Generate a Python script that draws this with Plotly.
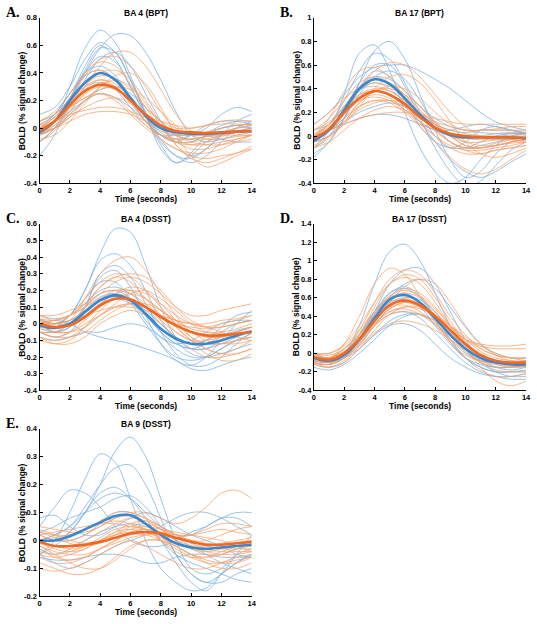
import plotly.graph_objects as go

TIME = [0, 1, 2, 3, 4, 5, 6, 7, 8, 9, 10, 11, 12, 13, 14]
X_TICKS = [0, 2, 4, 6, 8, 10, 12, 14]

# ---------------- Panel A: BA 4 (BPT) ----------------
A_BLUE = [
    [-0.05, 0.05, 0.3, 0.58, 0.71, 0.62, 0.38, 0.1, -0.1, -0.2, -0.22, -0.15, -0.05, 0.0, 0.0],
    [0.0, 0.05, 0.2, 0.4, 0.58, 0.68, 0.67, 0.55, 0.35, 0.12, -0.05, -0.1, -0.08, -0.05, -0.03],
    [0.1, 0.15, 0.3, 0.5, 0.62, 0.55, 0.35, 0.12, -0.05, -0.1, -0.05, 0.02, 0.05, 0.05, 0.03],
    [-0.2, -0.05, 0.2, 0.45, 0.6, 0.5, 0.3, 0.1, -0.08, -0.2, -0.25, -0.2, -0.1, 0.0, 0.05],
    [-0.1, 0.0, 0.15, 0.35, 0.5, 0.55, 0.45, 0.25, 0.05, -0.12, -0.2, -0.15, -0.05, 0.05, 0.1],
    [0.0, 0.1, 0.25, 0.4, 0.45, 0.38, 0.22, 0.05, -0.05, -0.08, -0.05, 0.0, 0.1, 0.15, 0.12],
    [-0.05, 0.0, 0.1, 0.2, 0.28, 0.3, 0.25, 0.15, 0.05, -0.05, -0.08, -0.06, -0.04, -0.03, -0.02],
    [0.02, 0.1, 0.25, 0.38, 0.42, 0.35, 0.2, 0.05, -0.05, -0.1, -0.1, -0.05, 0.0, 0.02, 0.03],
    [-0.1, 0.0, 0.2, 0.42, 0.58, 0.55, 0.35, 0.1, -0.15, -0.25, -0.2, -0.1, -0.05, -0.02, 0.0],
    [0.0, 0.05, 0.12, 0.2, 0.25, 0.22, 0.15, 0.05, -0.02, -0.05, -0.05, -0.03, 0.0, 0.02, 0.0],
    [-0.05, 0.05, 0.2, 0.3, 0.33, 0.28, 0.15, 0.02, -0.05, -0.05, -0.03, -0.05, -0.08, -0.1, -0.1],
    [0.05, 0.1, 0.22, 0.4, 0.52, 0.48, 0.3, 0.08, -0.12, -0.25, -0.18, -0.05, 0.02, 0.05, 0.05],
]
A_ORANGE = [
    [0.0, 0.08, 0.2, 0.38, 0.5, 0.52, 0.45, 0.3, 0.12, 0.0, -0.05, -0.05, -0.03, -0.02, 0.0],
    [-0.05, 0.0, 0.12, 0.3, 0.45, 0.55, 0.55, 0.45, 0.28, 0.1, -0.02, -0.05, -0.03, 0.0, 0.02],
    [0.0, 0.05, 0.15, 0.25, 0.3, 0.28, 0.2, 0.1, 0.0, -0.08, -0.12, -0.12, -0.1, -0.08, -0.05],
    [-0.05, 0.0, 0.08, 0.15, 0.2, 0.22, 0.18, 0.1, 0.02, -0.05, -0.1, -0.12, -0.12, -0.1, -0.08],
    [0.05, 0.12, 0.25, 0.38, 0.42, 0.35, 0.2, 0.05, -0.08, -0.15, -0.18, -0.18, -0.15, -0.1, -0.05],
    [-0.1, -0.02, 0.1, 0.2, 0.25, 0.22, 0.12, 0.02, -0.05, -0.08, -0.08, -0.06, -0.05, -0.05, -0.05],
    [0.0, 0.05, 0.15, 0.3, 0.4, 0.42, 0.35, 0.2, 0.05, -0.05, -0.08, -0.06, -0.03, 0.0, 0.02],
    [-0.02, 0.05, 0.15, 0.22, 0.25, 0.2, 0.1, 0.0, -0.08, -0.15, -0.2, -0.22, -0.2, -0.18, -0.13],
    [0.02, 0.05, 0.1, 0.13, 0.15, 0.15, 0.12, 0.08, 0.05, 0.02, 0.0, 0.02, 0.05, 0.06, 0.05],
    [-0.08, -0.05, 0.05, 0.18, 0.3, 0.35, 0.3, 0.18, 0.02, -0.12, -0.22, -0.25, -0.22, -0.18, -0.15],
    [0.05, 0.1, 0.2, 0.32, 0.38, 0.36, 0.28, 0.15, 0.05, 0.0, 0.0, 0.02, 0.03, 0.03, 0.02],
    [-0.05, 0.02, 0.15, 0.28, 0.35, 0.32, 0.22, 0.1, 0.0, -0.05, -0.05, -0.03, 0.0, 0.02, 0.03],
    [0.0, 0.05, 0.15, 0.22, 0.28, 0.3, 0.28, 0.22, 0.12, 0.02, -0.05, -0.08, -0.08, -0.06, -0.05],
    [-0.03, 0.02, 0.12, 0.25, 0.33, 0.3, 0.2, 0.08, -0.03, -0.1, -0.15, -0.15, -0.12, -0.08, -0.05],
    [0.03, 0.08, 0.18, 0.3, 0.35, 0.3, 0.18, 0.05, -0.05, -0.1, -0.1, -0.08, -0.05, -0.03, -0.02],
    [-0.02, 0.0, 0.05, 0.1, 0.12, 0.12, 0.1, 0.05, 0.0, -0.03, -0.05, -0.05, -0.04, -0.03, -0.02],
    [0.0, 0.08, 0.22, 0.4, 0.48, 0.45, 0.32, 0.15, 0.0, -0.1, -0.12, -0.1, -0.06, -0.03, 0.0],
    [-0.04, 0.0, 0.08, 0.2, 0.3, 0.38, 0.4, 0.32, 0.15, -0.05, -0.2, -0.28, -0.25, -0.2, -0.15],
]
A_BLUE_MEAN = [-0.03, 0.05, 0.2, 0.33, 0.4, 0.35, 0.22, 0.09, 0.0, -0.03, -0.04, -0.04, -0.035, -0.025, -0.02]
A_ORANGE_MEAN = [-0.02, 0.05, 0.17, 0.27, 0.315, 0.29, 0.2, 0.1, 0.02, -0.02, -0.03, -0.035, -0.03, -0.025, -0.02]

# ---------------- Panel B: BA 17 (BPT) ----------------
B_BLUE = [
    [-0.1, 0.05, 0.35, 0.7, 0.77, 0.55, 0.2, -0.1, -0.3, -0.4, -0.35, -0.2, -0.08, 0.0, 0.02],
    [-0.05, 0.0, 0.15, 0.45, 0.72, 0.8, 0.65, 0.35, 0.05, -0.2, -0.35, -0.3, -0.15, -0.05, 0.0],
    [0.0, 0.1, 0.3, 0.55, 0.7, 0.65, 0.45, 0.2, 0.0, -0.1, -0.05, 0.05, 0.08, 0.05, 0.02],
    [0.1, 0.2, 0.35, 0.5, 0.58, 0.6, 0.6, 0.55, 0.48, 0.4, 0.3, 0.2, 0.12, 0.08, 0.05],
    [-0.18, -0.05, 0.15, 0.35, 0.5, 0.55, 0.48, 0.3, 0.1, -0.05, -0.1, -0.08, -0.05, -0.02, 0.0],
    [-0.05, 0.05, 0.2, 0.38, 0.45, 0.4, 0.28, 0.12, -0.05, -0.2, -0.3, -0.35, -0.3, -0.22, -0.15],
    [0.0, 0.05, 0.12, 0.2, 0.25, 0.28, 0.25, 0.18, 0.1, 0.05, 0.03, 0.05, 0.05, 0.05, 0.03],
    [-0.1, 0.0, 0.2, 0.45, 0.6, 0.6, 0.42, 0.15, -0.1, -0.3, -0.42, -0.38, -0.25, -0.12, -0.05],
    [0.0, 0.05, 0.1, 0.15, 0.18, 0.18, 0.15, 0.1, 0.05, 0.02, 0.0, 0.0, 0.0, 0.0, 0.0],
    [-0.05, 0.05, 0.2, 0.33, 0.38, 0.35, 0.25, 0.12, 0.05, 0.05, 0.08, 0.1, 0.08, 0.05, 0.02],
    [0.05, 0.1, 0.25, 0.42, 0.5, 0.48, 0.38, 0.25, 0.15, 0.08, 0.05, 0.03, 0.02, 0.02, 0.02],
    [-0.15, -0.05, 0.15, 0.4, 0.55, 0.5, 0.3, 0.08, -0.05, -0.1, -0.1, -0.05, 0.0, 0.02, 0.02],
]
B_ORANGE = [
    [0.0, 0.15, 0.38, 0.55, 0.58, 0.5, 0.38, 0.25, 0.12, 0.02, -0.05, -0.08, -0.08, -0.06, -0.05],
    [-0.05, 0.05, 0.2, 0.4, 0.55, 0.62, 0.6, 0.5, 0.35, 0.2, 0.08, 0.0, -0.03, -0.03, -0.02],
    [0.05, 0.12, 0.25, 0.35, 0.38, 0.35, 0.25, 0.12, 0.0, -0.1, -0.15, -0.15, -0.12, -0.1, -0.08],
    [-0.1, -0.05, 0.05, 0.15, 0.22, 0.25, 0.22, 0.15, 0.05, -0.05, -0.12, -0.15, -0.12, -0.1, -0.08],
    [0.0, 0.1, 0.25, 0.4, 0.45, 0.42, 0.35, 0.22, 0.1, 0.0, -0.05, -0.05, -0.03, 0.0, 0.02],
    [-0.05, 0.0, 0.12, 0.25, 0.3, 0.28, 0.2, 0.08, -0.05, -0.18, -0.28, -0.32, -0.28, -0.2, -0.12],
    [0.0, 0.05, 0.15, 0.28, 0.38, 0.42, 0.4, 0.32, 0.2, 0.1, 0.05, 0.05, 0.06, 0.08, 0.08],
    [-0.08, 0.0, 0.12, 0.22, 0.28, 0.3, 0.28, 0.2, 0.1, 0.0, -0.08, -0.1, -0.08, -0.05, -0.03],
    [0.02, 0.1, 0.25, 0.4, 0.48, 0.45, 0.35, 0.2, 0.08, 0.0, -0.02, 0.0, 0.02, 0.03, 0.03],
    [-0.03, 0.05, 0.18, 0.3, 0.35, 0.32, 0.22, 0.1, 0.0, -0.08, -0.12, -0.12, -0.1, -0.08, -0.05],
    [0.0, 0.05, 0.1, 0.15, 0.18, 0.2, 0.2, 0.18, 0.15, 0.12, 0.1, 0.1, 0.1, 0.1, 0.1],
    [0.05, 0.15, 0.3, 0.45, 0.5, 0.45, 0.32, 0.18, 0.05, -0.05, -0.1, -0.1, -0.08, -0.05, -0.03],
    [-0.05, 0.0, 0.1, 0.25, 0.4, 0.5, 0.52, 0.45, 0.3, 0.12, -0.05, -0.15, -0.18, -0.15, -0.1],
    [0.0, 0.08, 0.2, 0.3, 0.33, 0.3, 0.22, 0.12, 0.05, 0.0, -0.02, -0.03, -0.03, -0.02, -0.02],
    [-0.02, 0.05, 0.15, 0.25, 0.3, 0.3, 0.25, 0.18, 0.1, 0.05, 0.02, 0.0, -0.02, -0.03, -0.05],
    [0.1, 0.2, 0.32, 0.4, 0.42, 0.38, 0.3, 0.2, 0.12, 0.08, 0.05, 0.05, 0.05, 0.05, 0.05],
    [-0.1, -0.02, 0.12, 0.28, 0.38, 0.4, 0.35, 0.25, 0.12, 0.0, -0.08, -0.1, -0.08, -0.05, -0.03],
    [0.0, 0.1, 0.22, 0.35, 0.4, 0.38, 0.3, 0.18, 0.05, -0.05, -0.1, -0.1, -0.06, -0.03, 0.0],
]
B_BLUE_MEAN = [-0.04, 0.05, 0.22, 0.4, 0.48, 0.44, 0.32, 0.18, 0.07, 0.01, -0.01, -0.01, -0.01, -0.01, -0.02]
B_ORANGE_MEAN = [-0.02, 0.06, 0.2, 0.32, 0.38, 0.35, 0.27, 0.16, 0.07, 0.02, 0.0, -0.01, -0.01, -0.01, -0.02]

# ---------------- Panel C: BA 4 (DSST) ----------------
C_BLUE = [
    [0.0, -0.02, 0.05, 0.2, 0.42, 0.57, 0.55, 0.35, 0.1, -0.08, -0.15, -0.15, -0.1, -0.05, -0.02],
    [0.02, 0.0, 0.05, 0.2, 0.38, 0.42, 0.35, 0.2, 0.02, -0.1, -0.18, -0.2, -0.18, -0.15, -0.12],
    [0.0, -0.05, -0.02, 0.1, 0.3, 0.35, 0.28, 0.12, -0.05, -0.18, -0.25, -0.25, -0.2, -0.12, -0.05],
    [-0.05, -0.08, -0.05, 0.1, 0.28, 0.32, 0.22, 0.05, -0.12, -0.22, -0.25, -0.2, -0.1, 0.0, 0.08],
    [0.0, 0.02, 0.0, -0.05, -0.08, -0.1, -0.12, -0.15, -0.18, -0.22, -0.27, -0.28, -0.25, -0.22, -0.2],
    [0.05, 0.03, 0.05, 0.12, 0.2, 0.22, 0.18, 0.1, 0.0, -0.08, -0.12, -0.1, -0.05, 0.0, 0.02],
    [-0.05, -0.05, 0.0, 0.1, 0.18, 0.2, 0.15, 0.05, -0.05, -0.12, -0.15, -0.15, -0.12, -0.08, -0.05],
    [0.0, 0.0, 0.02, 0.08, 0.15, 0.18, 0.15, 0.08, 0.0, -0.08, -0.12, -0.1, -0.02, 0.05, 0.07],
    [-0.08, -0.1, -0.08, -0.05, -0.05, -0.02, 0.0, -0.02, -0.08, -0.15, -0.2, -0.2, -0.15, -0.1, -0.08],
    [0.03, 0.0, 0.05, 0.15, 0.25, 0.25, 0.15, 0.02, -0.08, -0.12, -0.1, -0.05, 0.0, 0.02, 0.02],
    [0.0, -0.03, 0.0, 0.08, 0.16, 0.18, 0.12, 0.0, -0.12, -0.2, -0.22, -0.2, -0.15, -0.1, -0.06],
    [-0.03, -0.05, -0.02, 0.05, 0.12, 0.15, 0.12, 0.05, -0.05, -0.12, -0.15, -0.12, -0.08, -0.04, -0.02],
]
C_ORANGE = [
    [0.0, -0.02, 0.02, 0.15, 0.3, 0.38, 0.4, 0.32, 0.18, 0.05, -0.05, -0.08, -0.08, -0.05, -0.02],
    [0.05, 0.02, 0.05, 0.12, 0.22, 0.28, 0.3, 0.28, 0.2, 0.1, 0.02, -0.02, -0.02, 0.0, 0.02],
    [-0.05, -0.08, -0.05, 0.02, 0.1, 0.15, 0.15, 0.1, 0.02, -0.05, -0.1, -0.12, -0.12, -0.12, -0.1],
    [0.0, 0.02, 0.05, 0.1, 0.18, 0.25, 0.28, 0.25, 0.18, 0.1, 0.05, 0.05, 0.08, 0.1, 0.12],
    [-0.08, -0.1, -0.08, -0.02, 0.05, 0.1, 0.12, 0.1, 0.05, -0.02, -0.1, -0.15, -0.18, -0.18, -0.15],
    [0.02, 0.0, 0.02, 0.08, 0.15, 0.2, 0.2, 0.15, 0.08, 0.02, -0.03, -0.05, -0.05, -0.03, 0.0],
    [-0.1, -0.12, -0.1, -0.02, 0.08, 0.15, 0.18, 0.15, 0.08, 0.0, -0.08, -0.12, -0.12, -0.1, -0.08],
    [0.05, 0.05, 0.08, 0.12, 0.18, 0.2, 0.18, 0.12, 0.05, 0.0, -0.02, -0.03, -0.02, 0.0, 0.02],
    [0.0, -0.05, -0.05, 0.0, 0.05, 0.1, 0.12, 0.1, 0.05, -0.02, -0.1, -0.18, -0.22, -0.22, -0.18],
    [-0.05, -0.05, 0.0, 0.1, 0.22, 0.28, 0.25, 0.15, 0.05, -0.05, -0.1, -0.1, -0.08, -0.05, -0.02],
    [0.0, 0.0, 0.02, 0.05, 0.08, 0.1, 0.1, 0.08, 0.05, 0.02, 0.0, -0.02, -0.05, -0.08, -0.1],
    [-0.02, -0.05, -0.05, -0.02, 0.05, 0.12, 0.18, 0.2, 0.15, 0.08, 0.0, -0.05, -0.06, -0.05, -0.02],
    [0.03, 0.0, 0.0, 0.05, 0.12, 0.18, 0.2, 0.18, 0.12, 0.05, 0.0, -0.02, 0.0, 0.02, 0.05],
    [-0.08, -0.12, -0.12, -0.08, 0.0, 0.05, 0.08, 0.05, 0.0, -0.08, -0.15, -0.2, -0.2, -0.18, -0.15],
    [0.02, 0.0, 0.05, 0.15, 0.25, 0.3, 0.28, 0.2, 0.1, 0.0, -0.05, -0.08, -0.08, -0.06, -0.05],
    [-0.05, -0.08, -0.08, -0.05, 0.02, 0.08, 0.12, 0.12, 0.08, 0.02, -0.05, -0.1, -0.12, -0.1, -0.08],
    [0.0, -0.02, 0.0, 0.05, 0.12, 0.18, 0.22, 0.2, 0.12, 0.02, -0.08, -0.15, -0.18, -0.15, -0.1],
    [0.03, 0.02, 0.05, 0.1, 0.15, 0.16, 0.14, 0.1, 0.05, 0.02, 0.0, 0.0, 0.02, 0.03, 0.05],
]
C_BLUE_MEAN = [-0.01, -0.025, 0.0, 0.07, 0.14, 0.17, 0.14, 0.06, -0.03, -0.09, -0.12, -0.12, -0.1, -0.07, -0.045]
C_ORANGE_MEAN = [0.0, -0.02, -0.01, 0.04, 0.11, 0.15, 0.145, 0.1, 0.04, -0.01, -0.05, -0.07, -0.07, -0.06, -0.05]

# ---------------- Panel D: BA 17 (DSST) ----------------
D_BLUE = [
    [-0.05, -0.1, 0.0, 0.3, 0.75, 1.1, 1.18, 1.0, 0.65, 0.3, 0.05, -0.1, -0.15, -0.15, -0.12],
    [-0.1, -0.12, -0.05, 0.15, 0.45, 0.75, 0.9, 0.92, 0.75, 0.45, 0.15, -0.05, -0.15, -0.18, -0.15],
    [0.0, -0.05, 0.05, 0.2, 0.42, 0.6, 0.65, 0.55, 0.35, 0.12, -0.05, -0.15, -0.2, -0.2, -0.18],
    [-0.1, -0.15, -0.1, 0.05, 0.2, 0.3, 0.32, 0.25, 0.1, -0.05, -0.15, -0.22, -0.25, -0.25, -0.22],
    [-0.05, -0.08, 0.0, 0.2, 0.45, 0.65, 0.7, 0.6, 0.4, 0.2, 0.05, -0.05, -0.1, -0.1, -0.1],
    [-0.08, -0.1, -0.05, 0.1, 0.3, 0.5, 0.6, 0.58, 0.45, 0.25, 0.05, -0.1, -0.2, -0.25, -0.25],
    [-0.15, -0.18, -0.12, 0.0, 0.15, 0.3, 0.4, 0.42, 0.35, 0.2, 0.05, -0.05, -0.1, -0.12, -0.12],
    [-0.05, -0.05, 0.02, 0.2, 0.4, 0.55, 0.58, 0.5, 0.3, 0.1, -0.05, -0.12, -0.15, -0.15, -0.14],
    [0.0, -0.05, 0.0, 0.15, 0.38, 0.6, 0.75, 0.8, 0.7, 0.5, 0.28, 0.1, 0.0, -0.05, -0.05],
    [-0.05, -0.08, -0.02, 0.12, 0.3, 0.42, 0.45, 0.38, 0.22, 0.05, -0.1, -0.2, -0.25, -0.28, -0.28],
    [-0.1, -0.12, -0.05, 0.15, 0.42, 0.65, 0.72, 0.62, 0.4, 0.15, -0.05, -0.15, -0.2, -0.2, -0.2],
    [-0.05, -0.08, -0.05, 0.05, 0.2, 0.35, 0.42, 0.42, 0.32, 0.15, 0.0, -0.08, -0.1, -0.1, -0.08],
]
D_ORANGE = [
    [-0.05, -0.05, 0.1, 0.4, 0.75, 0.92, 0.85, 0.62, 0.35, 0.12, -0.02, -0.08, -0.1, -0.1, -0.08],
    [0.0, -0.02, 0.05, 0.25, 0.55, 0.8, 0.9, 0.85, 0.65, 0.4, 0.2, 0.05, -0.02, -0.05, -0.05],
    [-0.1, -0.12, -0.05, 0.1, 0.3, 0.48, 0.55, 0.5, 0.38, 0.22, 0.08, -0.02, -0.08, -0.1, -0.1],
    [-0.05, -0.05, 0.05, 0.2, 0.38, 0.5, 0.52, 0.45, 0.32, 0.18, 0.05, -0.05, -0.1, -0.12, -0.12],
    [-0.08, -0.1, -0.02, 0.15, 0.38, 0.58, 0.65, 0.6, 0.45, 0.25, 0.05, -0.15, -0.3, -0.35, -0.3],
    [0.0, 0.0, 0.08, 0.25, 0.45, 0.6, 0.62, 0.55, 0.42, 0.28, 0.15, 0.08, 0.05, 0.05, 0.05],
    [-0.12, -0.15, -0.1, 0.05, 0.25, 0.42, 0.5, 0.5, 0.42, 0.3, 0.15, 0.05, -0.02, -0.05, -0.05],
    [-0.05, -0.08, 0.0, 0.18, 0.42, 0.62, 0.7, 0.65, 0.5, 0.3, 0.12, 0.0, -0.08, -0.1, -0.1],
    [-0.02, -0.05, 0.02, 0.15, 0.3, 0.42, 0.45, 0.42, 0.35, 0.25, 0.15, 0.1, 0.08, 0.08, 0.1],
    [-0.1, -0.12, -0.05, 0.12, 0.35, 0.55, 0.6, 0.52, 0.35, 0.15, -0.05, -0.18, -0.25, -0.25, -0.22],
    [-0.05, -0.05, 0.02, 0.15, 0.35, 0.55, 0.72, 0.8, 0.75, 0.55, 0.3, 0.1, -0.02, -0.08, -0.1],
    [-0.08, -0.1, -0.05, 0.08, 0.22, 0.32, 0.35, 0.32, 0.25, 0.15, 0.05, -0.02, -0.08, -0.1, -0.1],
    [0.0, 0.0, 0.1, 0.3, 0.55, 0.75, 0.82, 0.75, 0.55, 0.3, 0.08, -0.08, -0.15, -0.15, -0.12],
    [-0.05, -0.08, 0.0, 0.15, 0.32, 0.45, 0.5, 0.48, 0.4, 0.3, 0.18, 0.08, 0.0, -0.05, -0.08],
    [-0.12, -0.15, -0.08, 0.08, 0.3, 0.48, 0.55, 0.5, 0.38, 0.2, 0.02, -0.1, -0.18, -0.2, -0.2],
    [-0.02, -0.05, 0.05, 0.22, 0.45, 0.62, 0.68, 0.62, 0.48, 0.3, 0.15, 0.02, -0.05, -0.08, -0.08],
    [-0.08, -0.08, 0.0, 0.15, 0.32, 0.45, 0.48, 0.42, 0.3, 0.15, 0.02, -0.08, -0.12, -0.14, -0.14],
    [-0.05, -0.08, 0.0, 0.2, 0.5, 0.75, 0.85, 0.8, 0.6, 0.35, 0.12, -0.05, -0.12, -0.15, -0.15],
]
D_BLUE_MEAN = [-0.05, -0.08, -0.02, 0.15, 0.38, 0.58, 0.63, 0.55, 0.38, 0.2, 0.05, -0.05, -0.1, -0.12, -0.12]
D_ORANGE_MEAN = [-0.04, -0.07, 0.0, 0.15, 0.35, 0.52, 0.57, 0.52, 0.4, 0.25, 0.1, -0.02, -0.08, -0.1, -0.1]

# ---------------- Panel E: BA 9 (DSST) ----------------
E_BLUE = [
    [0.0, 0.0, 0.03, 0.1, 0.2, 0.32, 0.37, 0.3, 0.15, 0.0, -0.1, -0.12, -0.1, -0.05, -0.03],
    [-0.05, 0.0, 0.1, 0.22, 0.31, 0.28, 0.15, 0.0, -0.1, -0.15, -0.18, -0.17, -0.12, -0.08, -0.05],
    [0.0, 0.02, 0.05, 0.12, 0.2, 0.26, 0.27, 0.2, 0.08, -0.05, -0.12, -0.15, -0.15, -0.12, -0.1],
    [0.05, 0.12, 0.18, 0.17, 0.12, 0.05, 0.0, -0.02, -0.02, 0.0, 0.03, 0.05, 0.08, 0.1, 0.1],
    [-0.05, -0.02, 0.03, 0.1, 0.17, 0.19, 0.15, 0.08, 0.0, -0.05, -0.08, -0.1, -0.12, -0.14, -0.15],
    [0.08, 0.09, 0.05, 0.02, 0.02, 0.05, 0.08, 0.1, 0.08, 0.05, 0.02, 0.0, -0.02, -0.05, -0.06],
    [-0.06, -0.07, -0.07, -0.06, -0.05, -0.05, -0.06, -0.08, -0.08, -0.06, -0.05, -0.05, -0.06, -0.06, -0.06],
    [0.0, 0.02, 0.05, 0.1, 0.15, 0.17, 0.15, 0.1, 0.05, 0.02, 0.02, 0.05, 0.08, 0.08, 0.05],
    [0.03, 0.05, 0.08, 0.1, 0.12, 0.15, 0.16, 0.12, 0.05, -0.05, -0.12, -0.15, -0.12, -0.08, -0.05],
    [-0.05, -0.08, -0.1, -0.08, -0.05, -0.02, 0.0, 0.02, 0.05, 0.08, 0.1, 0.1, 0.08, 0.05, 0.02],
    [0.02, 0.0, 0.0, 0.02, 0.06, 0.1, 0.1, 0.06, 0.0, -0.08, -0.15, -0.18, -0.12, -0.05, 0.02],
    [-0.03, -0.05, -0.03, 0.0, 0.03, 0.05, 0.06, 0.05, 0.03, 0.0, -0.02, -0.05, -0.08, -0.1, -0.12],
]
E_ORANGE = [
    [0.05, 0.04, 0.03, 0.03, 0.05, 0.08, 0.1, 0.1, 0.08, 0.06, 0.08, 0.12, 0.17, 0.18, 0.15],
    [-0.1, -0.11, -0.1, -0.08, -0.05, -0.02, 0.0, -0.02, -0.05, -0.08, -0.1, -0.1, -0.08, -0.06, -0.05],
    [0.0, -0.02, -0.02, 0.0, 0.03, 0.06, 0.08, 0.07, 0.04, 0.02, 0.0, 0.0, 0.02, 0.04, 0.05],
    [-0.05, -0.06, -0.05, -0.03, 0.0, 0.02, 0.03, 0.03, 0.01, -0.02, -0.05, -0.06, -0.05, -0.03, -0.02],
    [0.03, 0.02, 0.02, 0.04, 0.07, 0.1, 0.1, 0.08, 0.04, 0.0, -0.03, -0.04, -0.03, -0.01, 0.0],
    [-0.02, -0.05, -0.08, -0.1, -0.1, -0.07, -0.03, 0.0, 0.0, -0.02, -0.05, -0.07, -0.08, -0.08, -0.06],
    [0.02, 0.0, 0.0, 0.02, 0.05, 0.08, 0.09, 0.08, 0.05, 0.02, 0.0, -0.02, -0.03, -0.03, -0.03],
    [-0.08, -0.1, -0.12, -0.12, -0.1, -0.06, -0.02, 0.0, 0.0, -0.02, -0.05, -0.08, -0.1, -0.1, -0.08],
    [0.0, 0.01, 0.02, 0.04, 0.06, 0.07, 0.06, 0.04, 0.02, 0.01, 0.02, 0.04, 0.06, 0.06, 0.05],
    [0.04, 0.02, 0.0, -0.01, 0.0, 0.03, 0.06, 0.07, 0.05, 0.02, -0.01, -0.03, -0.04, -0.04, -0.04],
    [-0.04, -0.05, -0.04, -0.02, 0.01, 0.04, 0.05, 0.04, 0.0, -0.04, -0.06, -0.06, -0.04, -0.02, 0.0],
    [-0.01, -0.03, -0.04, -0.03, 0.0, 0.03, 0.04, 0.03, 0.01, -0.01, -0.02, -0.02, -0.01, 0.0, 0.01],
    [0.02, 0.03, 0.04, 0.05, 0.06, 0.06, 0.05, 0.04, 0.03, 0.02, 0.02, 0.03, 0.04, 0.03, 0.02],
    [-0.06, -0.08, -0.08, -0.06, -0.03, 0.0, 0.02, 0.02, 0.0, -0.03, -0.06, -0.08, -0.08, -0.07, -0.06],
    [0.0, -0.02, -0.03, -0.02, 0.0, 0.02, 0.04, 0.05, 0.04, 0.03, 0.02, 0.01, 0.0, -0.02, -0.04],
    [-0.02, -0.04, -0.05, -0.05, -0.03, -0.01, 0.01, 0.02, 0.02, 0.01, 0.0, -0.01, -0.02, -0.02, -0.02],
    [0.03, 0.01, -0.01, -0.02, -0.01, 0.02, 0.05, 0.06, 0.04, 0.01, -0.02, -0.04, -0.05, -0.05, -0.04],
    [-0.03, -0.06, -0.07, -0.06, -0.03, 0.0, 0.03, 0.04, 0.03, 0.0, -0.03, -0.05, -0.05, -0.03, -0.01],
]
E_BLUE_MEAN = [0.0, 0.0, 0.015, 0.04, 0.065, 0.088, 0.09, 0.06, 0.02, -0.01, -0.025, -0.03, -0.025, -0.02, -0.015]
E_ORANGE_MEAN = [-0.005, -0.02, -0.02, -0.015, -0.005, 0.01, 0.025, 0.03, 0.025, 0.01, -0.005, -0.015, -0.015, -0.01, -0.005]

TITLES = ["BA 4 (BPT)", "BA 17 (BPT)", "BA 4 (DSST)", "BA 17 (DSST)", "BA 9 (DSST)"]
LETTERS = ["A.", "B.", "C.", "D.", "E."]
X_TITLE = "Time (seconds)"
Y_TITLE = "BOLD (% signal change)"
Y_TICKS_A = [-0.4, -0.2, 0, 0.2, 0.4, 0.6, 0.8]
Y_TICKS_B = [-0.4, -0.2, 0, 0.2, 0.4, 0.6, 0.8, 1]
Y_TICKS_C = [-0.4, -0.3, -0.2, -0.1, 0, 0.1, 0.2, 0.3, 0.4, 0.5, 0.6]
Y_TICKS_D = [-0.4, -0.2, 0, 0.2, 0.4, 0.6, 0.8, 1, 1.2, 1.4]
Y_TICKS_E = [-0.2, -0.1, 0, 0.1, 0.2, 0.3, 0.4]

# ---------------- styling / layout ----------------
W, H = 537, 624
LIGHT_BLUE = "rgba(120,175,225,0.75)"
LIGHT_ORANGE = "rgba(245,160,105,0.75)"
DARK_BLUE = "rgb(55,135,210)"
DARK_ORANGE = "rgb(240,105,35)"
FONT = "Liberation Sans, Arial, sans-serif"

# pixel boxes of the plotting areas (left, right, top, bottom)
BOXES = [(38, 253, 14, 182), (316, 531, 14, 182),
         (38, 253, 223, 392), (316, 531, 223, 392),
         (38, 253, 431, 601)]

panels = [
    (A_BLUE, A_ORANGE, A_BLUE_MEAN, A_ORANGE_MEAN, Y_TICKS_A),
    (B_BLUE, B_ORANGE, B_BLUE_MEAN, B_ORANGE_MEAN, Y_TICKS_B),
    (C_BLUE, C_ORANGE, C_BLUE_MEAN, C_ORANGE_MEAN, Y_TICKS_C),
    (D_BLUE, D_ORANGE, D_BLUE_MEAN, D_ORANGE_MEAN, Y_TICKS_D),
    (E_BLUE, E_ORANGE, E_BLUE_MEAN, E_ORANGE_MEAN, Y_TICKS_E),
]


def px_x(v):
    return v / W


def px_y(v):
    return 1 - v / H


fig = go.Figure()
layout = dict(width=W, height=H, margin=dict(l=0, r=0, t=0, b=0),
              paper_bgcolor="white", plot_bgcolor="white", showlegend=False,
              font=dict(family=FONT, color="black"))
annotations = []

for i, (blue, orange, bmean, omean, yt) in enumerate(panels):
    n = "" if i == 0 else str(i + 1)
    xa, ya = "x" + n, "y" + n
    l, r, t, b = BOXES[i]
    for ys in blue:
        fig.add_trace(go.Scatter(x=TIME, y=ys, mode="lines", xaxis=xa, yaxis=ya,
                                 line=dict(color=LIGHT_BLUE, width=1, shape="spline", smoothing=1.0),
                                 hoverinfo="skip"))
    for ys in orange:
        fig.add_trace(go.Scatter(x=TIME, y=ys, mode="lines", xaxis=xa, yaxis=ya,
                                 line=dict(color=LIGHT_ORANGE, width=1, shape="spline", smoothing=1.0),
                                 hoverinfo="skip"))
    fig.add_trace(go.Scatter(x=TIME, y=bmean, mode="lines", xaxis=xa, yaxis=ya,
                             line=dict(color=DARK_BLUE, width=2.6, shape="spline", smoothing=1.0),
                             hoverinfo="skip"))
    fig.add_trace(go.Scatter(x=TIME, y=omean, mode="lines", xaxis=xa, yaxis=ya,
                             line=dict(color=DARK_ORANGE, width=2.6, shape="spline", smoothing=1.0),
                             hoverinfo="skip"))

    common = dict(showgrid=False, zeroline=False, showline=True, linecolor="black", linewidth=1,
                  ticks="inside", ticklen=3, tickcolor="black", mirror=False,
                  ticklabeloverflow="allow",
                  tickfont=dict(family=FONT, size=7.5, color="black"))
    layout["xaxis" + n] = dict(domain=[px_x(l), px_x(r)], range=[0, 14], anchor=ya,
                               tickvals=X_TICKS, ticktext=["<b>%s</b>" % v for v in X_TICKS],
                               **common)
    layout["yaxis" + n] = dict(domain=[px_y(b), px_y(t)], range=[yt[0], yt[-1]], anchor=xa,
                               tickvals=yt, ticktext=["<b>%g</b>" % v for v in yt],
                               **common)
    # panel title and letter
    annotations.append(dict(text="<b>%s</b>" % TITLES[i], x=px_x((l + r) / 2), y=px_y(t - 5),
                            xref="paper", yref="paper", showarrow=False,
                            font=dict(family=FONT, size=8.5, color="black"), xanchor="center", yanchor="middle"))
    annotations.append(dict(text="<b>%s</b>" % LETTERS[i], x=px_x(l - 36), y=px_y(t - 5),
                            xref="paper", yref="paper", showarrow=False,
                            font=dict(family="Liberation Serif, Times New Roman, serif", size=14, color="black"),
                            xanchor="left", yanchor="middle"))
    # axis titles
    annotations.append(dict(text="<b>%s</b>" % X_TITLE, x=px_x((l + r) / 2), y=px_y(b + 16),
                            xref="paper", yref="paper", showarrow=False,
                            font=dict(family=FONT, size=8.5, color="black"), xanchor="center", yanchor="middle"))
    annotations.append(dict(text="<b>%s</b>" % Y_TITLE, x=px_x(l - 18), y=px_y((t + b) / 2),
                            xref="paper", yref="paper", showarrow=False, textangle=-90,
                            font=dict(family=FONT, size=8.5, color="black"), xanchor="center", yanchor="middle"))

layout["annotations"] = annotations
fig.update_layout(**layout)
# remove the page's default 8px body margin so the figure fills the window
fig.write_html("out.html", config={"displayModeBar": False, "staticPlot": True},
               post_script="document.body.style.margin='0';document.body.style.overflow='hidden';")
